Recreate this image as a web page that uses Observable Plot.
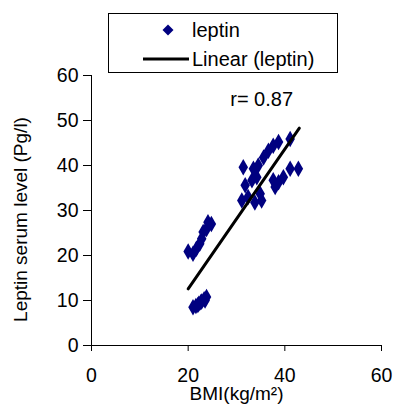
<!DOCTYPE html>
<html>
<head>
<meta charset="utf-8">
<script src="https://cdn.jsdelivr.net/npm/d3@7"></script>
<script src="https://cdn.jsdelivr.net/npm/@observablehq/plot@0.6"></script>
<style>
  html, body { margin: 0; padding: 0; background: #fff; }
  #wrap { position: relative; width: 393px; height: 411px; font-family: "Liberation Sans", Arial, sans-serif; }
  #legend { position: absolute; left: 108px; top: 13px; width: 230px; height: 60px; border: 1px solid #000; box-sizing: border-box; font-size: 20px; color: #000; }
  #legend .abs { position: absolute; line-height: 20px; white-space: nowrap; }
</style>
</head>
<body>
<div id="wrap">
  <div id="chart"></div>
  <div id="legend">
    <svg class="abs" style="left:53px; top:10px;" width="12" height="12"><path d="M6,0.5L11.5,6L6,11.5L0.5,6Z" fill="#000080"/></svg>
    <span class="abs" style="left:83px; top:6px;">leptin</span>
    <svg class="abs" style="left:34px; top:43px;" width="46" height="4"><line x1="0" y1="2" x2="46" y2="2" stroke="#000" stroke-width="3"/></svg>
    <span class="abs" style="left:83px; top:35px;">Linear (leptin)</span>
  </div>
</div>
<script>
const bmi = [21.0, 21.6, 22.2, 22.8, 23.3, 23.8, 22.0, 22.6, 23.5,
  20.0, 21.0, 21.7, 22.4, 22.8, 23.1, 23.8, 24.1, 24.8,
  31.4, 33.5, 34.5, 35.6, 36.6, 37.6, 38.7, 41.1,
  31.8, 33.2, 34.2, 31.1, 32.4, 33.8, 35.2, 34.9,
  38.0, 38.7, 39.7, 41.1, 42.8, 37.6];
const leptin = [8.5, 8.8, 9.3, 9.8, 10.3, 10.8, 9.0, 9.6, 10.0,
  20.9, 20.4, 21.5, 22.6, 23.7, 25.2, 25.9, 27.4, 27.0,
  39.6, 39.3, 40.0, 41.8, 43.3, 44.4, 45.2, 45.9,
  35.6, 36.7, 37.4, 32.2, 33.0, 31.8, 32.2, 33.7,
  35.2, 36.3, 37.4, 39.3, 39.3, 36.7];
const trendBmi = [20.0, 43.0];
const trendLeptin = [12.6, 48.3];
const xTicks = [0, 20, 40, 60];
const yTicks = [0, 10, 20, 30, 40, 50, 60];
const rLabel = "r= 0.87";
const rPos = {x: 35.2, y: 54.6};

const points = bmi.map((b, i) => ({bmi: b, leptin: leptin[i]}));
const trend = trendBmi.map((b, i) => ({bmi: b, leptin: trendLeptin[i]}));

const chart = Plot.plot({
  width: 393,
  height: 411,
  marginLeft: 91,
  marginRight: 12,
  marginTop: 75,
  marginBottom: 66,
  style: {fontFamily: "Liberation Sans, Arial, sans-serif", fontSize: "19px", color: "#000", background: "transparent"},
  x: {domain: [0, 60], ticks: xTicks},
  y: {domain: [0, 60], ticks: yTicks},
  marks: [
    Plot.ruleY([0], {stroke: "#000", strokeWidth: 1}),
    Plot.ruleX([0], {stroke: "#000", strokeWidth: 1}),
    Plot.axisX({ticks: xTicks, tickSize: 6, tickPadding: 17, fontSize: 19.5, stroke: "#000", strokeOpacity: 1, label: null}),
    Plot.axisY({ticks: yTicks, tickSize: 8, tickPadding: 5, fontSize: 19.5, stroke: "#000", strokeOpacity: 1, label: null}),
    Plot.text(["BMI(kg/m²)"], {frameAnchor: "bottom", dy: 54, fontSize: 19, fill: "#000"}),
    Plot.text(["Leptin serum level (Pg/l)"], {frameAnchor: "left", textAnchor: "middle", dx: -71, dy: 9, rotate: -90, fontSize: 19, fill: "#000"}),
    Plot.dot(points, {x: "bmi", y: "leptin", symbol: "diamond", r: 5, fill: "#000080", stroke: "none"}),
    Plot.line(trend, {x: "bmi", y: "leptin", stroke: "#000", strokeWidth: 3}),
    Plot.text([rLabel], {x: () => rPos.x, y: () => rPos.y, fontSize: 20, fill: "#000"})
  ]
});
document.getElementById("chart").appendChild(chart);
</script>
</body>
</html>
